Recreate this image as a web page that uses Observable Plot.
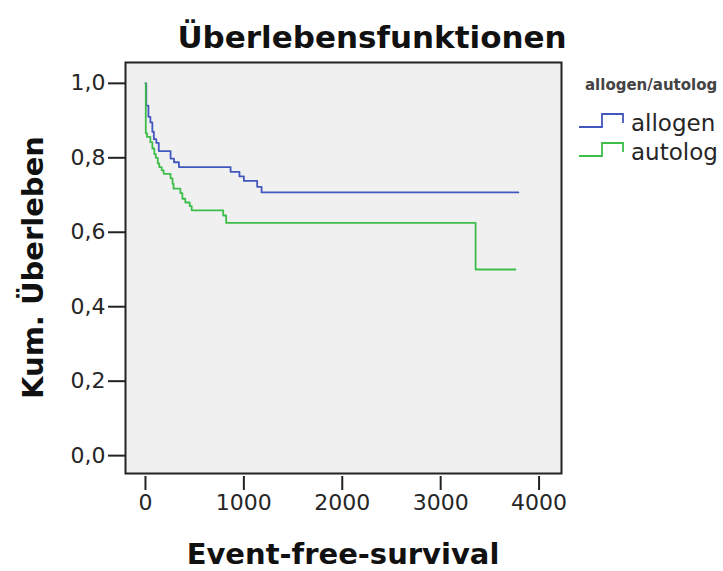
<!DOCTYPE html>
<html><head><meta charset="utf-8">
<script src="https://cdn.jsdelivr.net/npm/d3@7"></script>
<script src="https://cdn.jsdelivr.net/npm/@observablehq/plot@0.6"></script>
<style>body{margin:0;background:#fff;} svg{display:block}</style>
</head><body><div id="chart"></div>
<script>
const titleText = "Überlebensfunktionen";
const xLabel = "Event-free-survival";
const yLabel = "Kum. Überleben";
const legendTitle = "allogen/autolog";
const groups = ["allogen", "autolog"];
const colors = ["#4257bd", "#3dbd4a"];
const xTicks = [0, 1000, 2000, 3000, 4000];
const yTicks = [0, 0.2, 0.4, 0.6, 0.8, 1.0];

const allogenTime = [0, 8, 30, 50, 70, 85, 110, 135, 255, 290, 340, 865, 955, 1000, 1135, 1180, 3790];
const allogenSurv = [1, 0.94, 0.91, 0.895, 0.87, 0.85, 0.84, 0.818, 0.798, 0.788, 0.775, 0.762, 0.75, 0.738, 0.722, 0.707, 0.707];

const autologTime = [0, 3, 15, 50, 70, 90, 105, 125, 140, 165, 185, 255, 275, 285, 355, 375, 405, 450, 470, 790, 820, 3355, 3760];
const autologSurv = [1, 0.866, 0.856, 0.842, 0.825, 0.81, 0.80, 0.785, 0.775, 0.766, 0.757, 0.745, 0.73, 0.717, 0.705, 0.69, 0.68, 0.67, 0.659, 0.645, 0.625, 0.5, 0.5];

const rows = [
  ...allogenTime.map((t, i) => ({group: groups[0], t, s: allogenSurv[i]})),
  ...autologTime.map((t, i) => ({group: groups[1], t, s: autologSurv[i]}))
];

const W = 723, H = 571;
const mL = 125, mR = 162, mT = 62, mB = 98;

const chart = Plot.plot({
  width: W, height: H,
  marginLeft: mL, marginRight: mR, marginTop: mT, marginBottom: mB,
  style: {fontFamily: "DejaVu Sans", fontSize: "22px", color: "#262626", background: "white", overflow: "visible"},
  x: {domain: [-203, 4228]},
  y: {domain: [-0.048, 1.056]},
  color: {domain: groups, range: colors},
  marks: [
    Plot.frame({fill: "#f0f0f0", stroke: null}),
    Plot.line(rows, {x: "t", y: "s", stroke: "group", z: "group", curve: "step-after", strokeWidth: 1.8}),
    Plot.frame({stroke: "#222", strokeWidth: 2}),
    Plot.axisY({ticks: yTicks, tickSize: 17, tickPadding: 3, strokeWidth: 2, stroke: "#222",
      tickFormat: d => d.toFixed(1).replace(".", ","), label: null}),
    Plot.axisX({ticks: xTicks, tickSize: 14, tickPadding: 4, dy: 3, strokeWidth: 2, stroke: "#222",
      tickFormat: d => String(d), label: null})
  ]
});
document.getElementById("chart").appendChild(chart);

const svg = d3.select(chart);
const fx = (mL + (W - mR)) / 2;
const fy = (mT + (H - mB)) / 2;

svg.append("text").text(titleText)
  .attr("x", 372).attr("y", 48).attr("text-anchor", "middle")
  .style("font", "bold 31px 'DejaVu Sans'").attr("fill", "#111");

svg.append("text").text(xLabel)
  .attr("x", fx).attr("y", 564).attr("text-anchor", "middle")
  .style("font", "bold 29px 'DejaVu Sans'").attr("fill", "#111");

svg.append("text").text(yLabel)
  .attr("transform", `translate(43,${fy}) rotate(-90)`).attr("text-anchor", "middle")
  .style("font", "bold 29px 'DejaVu Sans'").attr("fill", "#111");

// legend
const lg = svg.append("g").attr("text-anchor", "start");
lg.append("text").text(legendTitle)
  .attr("x", 585).attr("y", 90).attr("text-anchor", "start")
  .style("font", "bold 15px 'DejaVu Sans'").attr("fill", "#444");
groups.forEach((g, i) => {
  const yb = 127 + i * 29;
  lg.append("path")
    .attr("d", `M579,${yb}H602V${yb - 13}H623V${yb - 4}`)
    .attr("fill", "none").attr("stroke", colors[i]).attr("stroke-width", 1.8);
  lg.append("text").text(g)
    .attr("x", 631).attr("y", yb + 4).attr("text-anchor", "start")
    .style("font", "23px 'DejaVu Sans'").attr("fill", "#262626");
});
</script>
</body></html>
